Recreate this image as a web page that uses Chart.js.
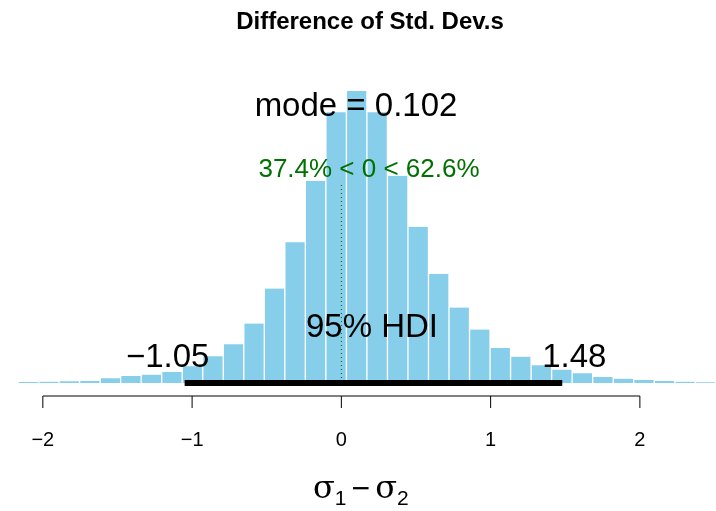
<!DOCTYPE html>
<html>
<head>
<meta charset="utf-8">
<script src="https://cdn.jsdelivr.net/npm/chart.js@4/dist/chart.umd.min.js"></script>
<style>
html, body { margin: 0; padding: 0; background: #fff; }
#wrap { width: 716px; height: 511px; }
</style>
</head>
<body>
<div id="wrap"><canvas id="chart"></canvas></div>
<script>
// bin centres (units of sigma1 - sigma2) and bar heights (relative)
const binStart = -2.0975;
const binWidth = 0.1375;
const heights = [3, 4, 5, 6, 14, 21, 25, 33, 50, 80, 116, 178, 283, 422, 606, 811,
    875, 811, 621, 468, 327, 226, 160, 105, 79, 53, 40, 29, 18, 13, 9, 6, 4, 2];
const centres = heights.map((h, i) => +(binStart + i * binWidth).toFixed(4));
const xTicks = [-2, -1, 0, 1, 2];
const hdiLow = -1.05, hdiHigh = 1.48;

const overlay = {
    id: "overlay",
    afterDatasetsDraw(c) {
        const ctx = c.ctx;
        const xs = c.scales.x, ys = c.scales.y;
        const base = ys.getPixelForValue(0);
        ctx.save();
        ctx.fillStyle = "#000";
        ctx.textAlign = "center";
        ctx.textBaseline = "middle";
        ctx.font = "bold 24px 'Liberation Sans', Arial, sans-serif";
        ctx.fillText("Difference of Std. Dev.s", 370, 22);

        // axis
        ctx.strokeStyle = "#000";
        ctx.lineWidth = 1;
        const ay = 396;
        ctx.beginPath();
        ctx.moveTo(xs.getPixelForValue(-2), ay);
        ctx.lineTo(xs.getPixelForValue(2), ay);
        xTicks.forEach(t => {
            const px = xs.getPixelForValue(t);
            ctx.moveTo(px, ay);
            ctx.lineTo(px, ay + 12);
        });
        ctx.stroke();
        ctx.font = "20px 'Liberation Sans', Arial, sans-serif";
        xTicks.forEach(t => {
            ctx.fillText(t < 0 ? "\u2212" + (-t) : String(t), xs.getPixelForValue(t), 440);
        });

        // x label sigma1 - sigma2
        ctx.textAlign = "left";
        ctx.font = "32px 'DejaVu Serif', serif";
        let x = 313;
        ctx.fillText("σ", x, 490); x += ctx.measureText("σ").width;
        ctx.font = "21px 'Liberation Sans', sans-serif";
        ctx.fillText("1", x, 499); x += ctx.measureText("1").width + 5;
        ctx.font = "32px 'Liberation Sans', sans-serif";
        ctx.fillText("\u2212", x, 490); x += ctx.measureText("\u2212").width + 5;
        ctx.font = "32px 'DejaVu Serif', serif";
        ctx.fillText("σ", x, 490); x += ctx.measureText("σ").width;
        ctx.font = "21px 'Liberation Sans', sans-serif";
        ctx.fillText("2", x, 499);

        // zero line
        const zx = xs.getPixelForValue(0);
        ctx.strokeStyle = "#006400";
        ctx.setLineDash([1, 3]);
        ctx.beginPath();
        ctx.moveTo(zx, 185);
        ctx.lineTo(zx, base);
        ctx.stroke();
        ctx.setLineDash([]);

        // HDI bar
        ctx.strokeStyle = "#000";
        ctx.lineWidth = 6;
        ctx.beginPath();
        ctx.moveTo(xs.getPixelForValue(hdiLow), base);
        ctx.lineTo(xs.getPixelForValue(hdiHigh), base);
        ctx.stroke();

        ctx.textAlign = "center";
        ctx.font = "33px 'Liberation Sans', Arial, sans-serif";
        ctx.fillText("mode = 0.102", 356, 107);
        ctx.fillText("95% HDI", 372, 328);
        ctx.fillText("\u22121.05", xs.getPixelForValue(hdiLow) - 17, 358);
        ctx.fillText("1.48", xs.getPixelForValue(hdiHigh) + 12, 358);

        ctx.fillStyle = "#007000";
        ctx.font = "26px 'Liberation Sans', Arial, sans-serif";
        ctx.fillText("37.4% < 0 < 62.6%", 369, 170);
        ctx.restore();
    }
};

new Chart(document.getElementById("chart"), {
    type: "bar",
    data: {
        datasets: [{
            data: centres.map((c, i) => ({ x: c, y: heights[i] })),
            backgroundColor: "#87CEEB",
            borderColor: "#ffffff",
            borderWidth: { left: 1, right: 1, top: 0, bottom: 0 },
            barPercentage: 1,
            categoryPercentage: 1
        }]
    },
    options: {
        responsive: true,
        maintainAspectRatio: false,
        animation: false,
        layout: { padding: { left: 10, right: 0, top: 91, bottom: 128 } },
        plugins: { legend: { display: false }, tooltip: { enabled: false } },
        scales: {
            x: { type: "linear", min: -2.22, max: 2.51, offset: false, display: false },
            y: { min: 0, max: 875, display: false }
        }
    },
    plugins: [overlay]
});
</script>
</body>
</html>
